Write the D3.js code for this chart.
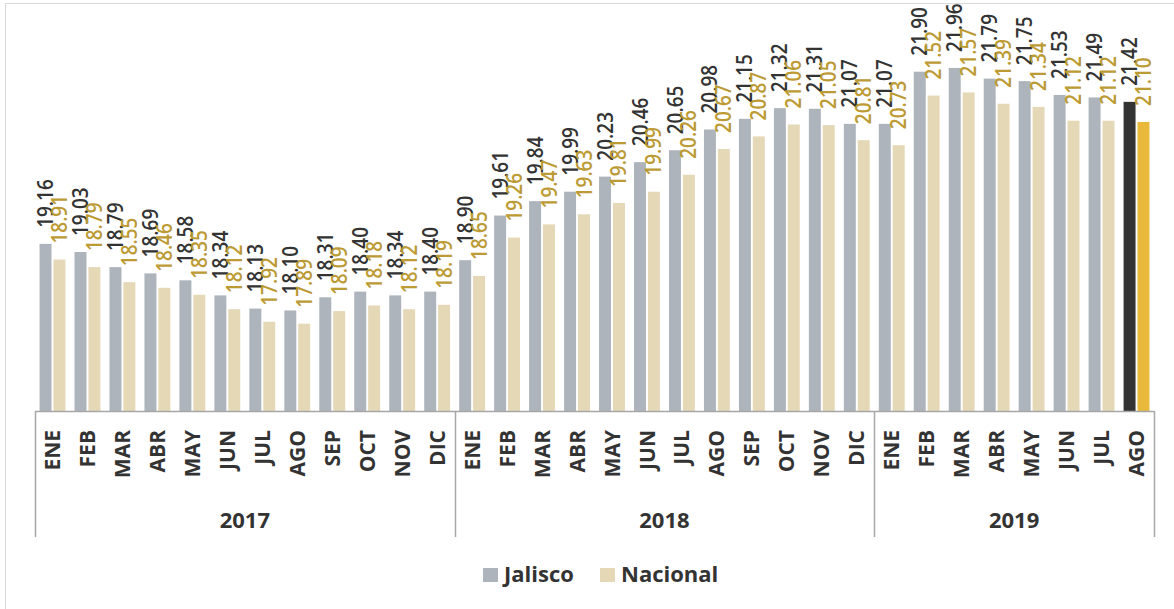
<!DOCTYPE html>
<html>
<head>
<meta charset="utf-8">
<script src="https://cdn.jsdelivr.net/npm/d3@7"></script>
<style>
  body { margin: 0; background: #fff; }
  svg text { font-family: "Open Sans", sans-serif; }
</style>
</head>
<body>
<svg width="1174" height="609"></svg>
<script>
  'use strict';

  const years = ['2017', '2018', '2019'];
  const months = ['ENE','FEB','MAR','ABR','MAY','JUN','JUL','AGO','SEP','OCT','NOV','DIC'];
  const monthsPerYear = [12, 12, 8];

  const jalisco = [
    19.16, 19.03, 18.79, 18.69, 18.58, 18.34, 18.13, 18.10, 18.31, 18.40, 18.34, 18.40,
    18.90, 19.61, 19.84, 19.99, 20.23, 20.46, 20.65, 20.98, 21.15, 21.32, 21.31, 21.07,
    21.07, 21.90, 21.96, 21.79, 21.75, 21.53, 21.49, 21.42
  ];
  const nacional = [
    18.91, 18.79, 18.55, 18.46, 18.35, 18.12, 17.92, 17.89, 18.09, 18.18, 18.12, 18.19,
    18.65, 19.26, 19.47, 19.63, 19.81, 19.99, 20.26, 20.67, 20.87, 21.06, 21.05, 20.81,
    20.73, 21.52, 21.57, 21.39, 21.34, 21.12, 21.12, 21.10
  ];
  const seriesNames = ['Jalisco', 'Nacional'];

  // build the rows: one per month
  const rows = [];
  years.forEach((yr, i) => {
    for (let m = 0; m < monthsPerYear[i]; m++) {
      rows.push({ key: yr + '-' + m, year: yr, month: months[m] });
    }
  });
  rows.forEach((d, i) => { d.values = [jalisco[i], nacional[i]]; });

  const svg = d3.select('svg');
  const left = 35, right = 1154, axisY = 411, lineBottom = 537;

  // frame
  svg.append('rect')
      .attr('x', 5.5).attr('y', 3.5)
      .attr('width', 1200).attr('height', 700)
      .attr('fill', 'none').attr('stroke', '#d9d9d9');

  const x0 = d3.scaleBand().domain(rows.map(d => d.key)).range([left, right]);
  const x1 = d3.scaleBand().domain(seriesNames)
      .range([x0.bandwidth() * 0.13, x0.bandwidth() * 0.87]).paddingInner(0.14);
  const y = d3.scaleLinear().domain([16.5, 22.5]).range([axisY, 34]);

  const fillColor = (s, i) => {
    const last = i === rows.length - 1;
    if (s === 0) return last ? '#333333' : '#adb4bb';
    return last ? '#e8b93a' : '#e5d8b6';
  };
  const labelColor = ['#333333', '#bc9a34'];

  const groups = svg.selectAll('g.month').data(rows)
    .enter().append('g')
      .attr('class', 'month')
      .attr('transform', d => `translate(${x0(d.key)},0)`);

  groups.each(function (d, i) {
    const g = d3.select(this);
    d.values.forEach((v, s) => {
      const bx = x1(seriesNames[s]);
      g.append('rect')
          .attr('x', bx)
          .attr('y', y(v))
          .attr('width', x1.bandwidth())
          .attr('height', y.range()[0] - y(v))
          .attr('fill', fillColor(s, i));
      const cx = bx + x1.bandwidth() / 2;
      const ty = y(v) - 16;
      g.append('text')
          .attr('transform', `translate(${cx},${ty}) rotate(-90) scale(1,1.1)`)
          .attr('dy', '0.36em')
          .attr('font-size', 19)
          .attr('font-weight', 600)
          .attr('fill', labelColor[s])
          .text(v.toFixed(2));
    });
    g.append('text')
        .attr('transform', `translate(${x0.bandwidth() / 2},${axisY + 19}) rotate(-90)`)
        .attr('dy', '0.36em')
        .attr('text-anchor', 'end')
        .attr('font-size', 21)
        .attr('font-weight', 'bold')
        .attr('fill', '#333333')
        .text(d.month);
  });

  // category axis
  svg.append('line')
      .attr('x1', left).attr('x2', right)
      .attr('y1', axisY + 0.5).attr('y2', axisY + 0.5)
      .attr('stroke', '#a6a6a6').attr('stroke-width', 1.5);

  let start = 0;
  const bounds = [left];
  years.forEach((yr, i) => {
    const first = rows[start].key;
    const lastKey = rows[start + monthsPerYear[i] - 1].key;
    const xa = x0(first), xb = x0(lastKey) + x0.bandwidth();
    bounds.push(xb);
    svg.append('text')
        .attr('x', (xa + xb) / 2)
        .attr('y', 528)
        .attr('text-anchor', 'middle')
        .attr('font-size', 22)
        .attr('font-weight', 'bold')
        .attr('fill', '#333333')
        .text(yr);
    start += monthsPerYear[i];
  });
  svg.selectAll('line.sep').data(bounds)
    .enter().append('line')
      .attr('class', 'sep')
      .attr('x1', d => Math.round(d) + 0.5).attr('x2', d => Math.round(d) + 0.5)
      .attr('y1', axisY).attr('y2', lineBottom)
      .attr('stroke', '#a6a6a6').attr('stroke-width', 1.5);

  // legend
  const legend = svg.append('g');
  const legendX = [483, 600];
  seriesNames.forEach((name, s) => {
    legend.append('rect')
        .attr('x', legendX[s]).attr('y', 568)
        .attr('width', 15).attr('height', 14)
        .attr('fill', s === 0 ? '#adb4bb' : '#e5d8b6');
    legend.append('text')
        .attr('x', legendX[s] + 21).attr('y', 582)
        .attr('font-size', 22)
        .attr('font-weight', 'bold')
        .attr('fill', '#333333')
        .text(name);
  });
</script>
</body>
</html>
